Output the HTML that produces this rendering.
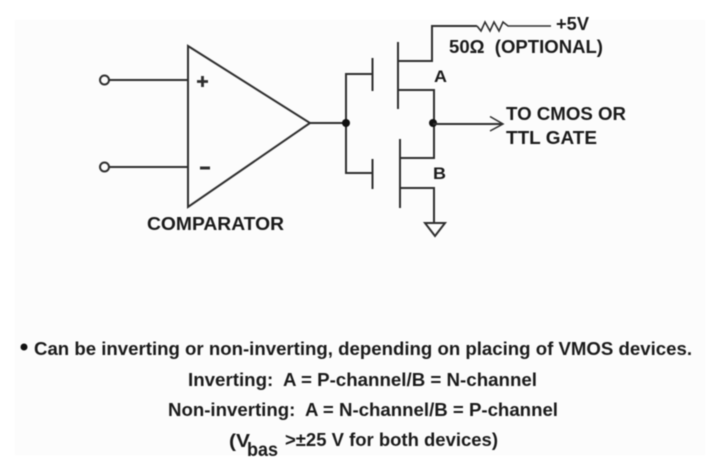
<!DOCTYPE html>
<html>
<head>
<meta charset="utf-8">
<style>
html,body{margin:0;padding:0;background:#fff;width:720px;height:470px;overflow:hidden}
svg{display:block;filter:blur(0.6px)}
text{font-family:"Liberation Sans",sans-serif;font-weight:bold;fill:#1a1a1a}
.l{fill:none;stroke:#2e2e2e;stroke-width:2}
</style>
</head>
<body>
<svg width="720" height="470" viewBox="0 0 720 470" xmlns="http://www.w3.org/2000/svg">
<rect width="720" height="470" fill="#ffffff"/>
<rect x="15" y="20" width="690" height="435" fill="#fcfcfc"/>

<!-- comparator -->
<polygon class="l" points="188,46 310,123 188,207"/>
<path class="l" d="M109,80H188M109,167H188"/>
<circle class="l" cx="104.500" cy="80" r="4.500" fill="#fff"/>
<circle class="l" cx="104.500" cy="167" r="4.500" fill="#fff"/>
<path class="l" style="stroke-width:2.800" d="M197,81.500H208M202.500,76V87"/>
<path class="l" style="stroke-width:3" d="M200,168H210"/>
<text x="147" y="230" font-size="18.500" textLength="137" lengthAdjust="spacingAndGlyphs">COMPARATOR</text>

<!-- gate wiring -->
<path class="l" d="M310,123H346M372,74H346V173H372"/>
<path class="l" d="M372.500,58V91M372.500,159V189"/>
<circle cx="346" cy="123" r="4" fill="#111"/>

<!-- transistor A -->
<path class="l" d="M398,42V109"/>
<path class="l" d="M398,61H432V26H477"/>
<path class="l" style="stroke-width:1.600" d="M477,26L481,31L485,22L490,31L494,22L499,31L503,22L508,26H551"/>
<path class="l" d="M398,90H434V158H400"/>

<!-- transistor B -->
<path class="l" d="M400,139V208"/>
<path class="l" d="M400,188H434V222"/>
<polygon class="l" points="425,223 445,223 435,236"/>

<!-- output -->
<circle cx="433" cy="123" r="4" fill="#111"/>
<path class="l" d="M433,124H502"/>
<path class="l" style="stroke-width:1.500" d="M490,116.500L503,124L490,131"/>

<!-- labels -->
<text x="556" y="30" font-size="18" textLength="33" lengthAdjust="spacingAndGlyphs">+5V</text>
<text x="449" y="53" font-size="18" textLength="154" lengthAdjust="spacingAndGlyphs" xml:space="preserve">50Ω  (OPTIONAL)</text>
<text x="434" y="82" font-size="17" textLength="13" lengthAdjust="spacingAndGlyphs">A</text>
<text x="433" y="179" font-size="17" textLength="13" lengthAdjust="spacingAndGlyphs">B</text>
<text x="506" y="120" font-size="18.500" textLength="120" lengthAdjust="spacingAndGlyphs">TO CMOS OR</text>
<text x="506" y="144" font-size="18.500" textLength="91" lengthAdjust="spacingAndGlyphs">TTL GATE</text>

<!-- notes -->
<circle cx="24" cy="347" r="3.500" fill="#111"/>
<text x="34" y="355" font-size="18.500" textLength="658" lengthAdjust="spacingAndGlyphs">Can be inverting or non-inverting, depending on placing of VMOS devices.</text>
<text x="188" y="386" font-size="18" textLength="349" lengthAdjust="spacingAndGlyphs" xml:space="preserve">Inverting:  A = P-channel/B = N-channel</text>
<text x="168" y="416" font-size="18" textLength="390" lengthAdjust="spacingAndGlyphs" xml:space="preserve">Non-inverting:  A = N-channel/B = P-channel</text>
<text x="229" y="447" font-size="18" textLength="21" lengthAdjust="spacingAndGlyphs">(V</text>
<text x="247" y="456" font-size="19" textLength="31" lengthAdjust="spacingAndGlyphs">bas</text>
<text x="285" y="446" font-size="18" textLength="213" lengthAdjust="spacingAndGlyphs">&gt;±25 V for both devices)</text>
</svg>
</body>
</html>
